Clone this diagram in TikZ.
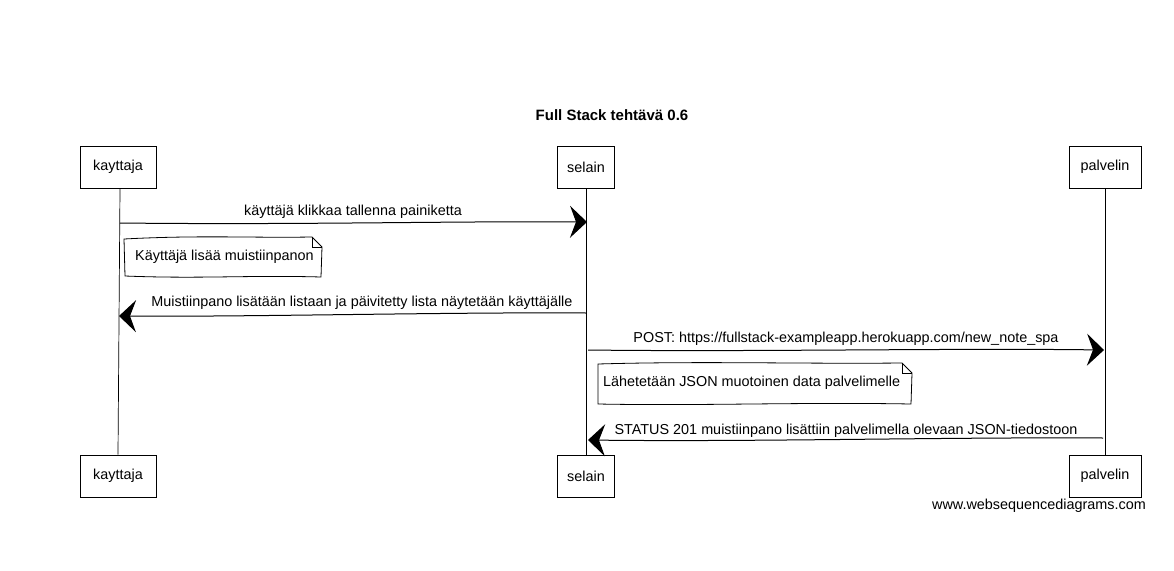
\documentclass[tikz,border=0pt]{standalone}
\usepackage{fontspec}
\setmainfont{Liberation Sans}
\usetikzlibrary{arrows.meta,calc}
\tikzset{
  txt/.style={font=\fontsize{14.4}{17}\selectfont},
  part/.style={txt, draw, line width=0.9pt, minimum height=42pt, inner sep=0pt},
  life/.style={line width=0.7pt},
  msg/.style={line width=1pt, -{Stealth[length=17pt,width=32pt,inset=6pt]}},
  lbl/.style={txt, inner sep=0pt},
  notetext/.style={txt, inner sep=0pt, anchor=west},
  noteline/.style={line width=0.8pt},
}
\begin{document}
\begin{tikzpicture}[x=1pt,y=-1pt]
\useasboundingbox (0,0) rectangle (1174,570);
% title
\node[font=\bfseries\fontsize{15}{18}\selectfont] (title) at (612,115) {Full Stack tehtävä 0.6};
% participants
\node[part, minimum width=76pt] (k) at (118,167) {kayttaja};
\node[part, minimum width=57pt] (s) at (586,167) {selain};
\node[part, minimum width=72pt] (p) at (1105,167) {palvelin};
\node[part, minimum width=76pt] (kb) at (118,476) {kayttaja};
\node[part, minimum width=57pt] (sb) at (586,476) {selain};
\node[part, minimum width=72pt] (pb) at (1105,476) {palvelin};
% lifelines
\draw[life] ([xshift=2pt]k.south) -- (kb.north);
\draw[life] (s.south) -- (sb.north);
\draw[life] (p.south) -- (pb.north);
% message points
\coordinate (k1) at (120,223);
\coordinate (s1) at (587,222);
\coordinate (s2) at (586,313);
\coordinate (k2) at (119,316);
\coordinate (s3) at (588,350);
\coordinate (p3) at (1104,350);
\coordinate (p4) at (1103,438);
\coordinate (s4) at (588,440);
% message 1
\draw[msg] (k1) .. controls (300,225) and (450,221) .. (s1);
\node[lbl] (l1) at (353,212) {käyttäjä klikkaa tallenna painiketta};
% note 1
\node[notetext] (n1t) at (135,257) {Käyttäjä lisää muistiinpanon};
\draw[noteline] (124,239) .. controls (200,235) and (250,238) .. (312,237) -- (322,247) -- (321,277) .. controls (250,275) and (200,279) .. (125,276) -- cycle;
\draw[noteline] (312,237) -- (312,247) -- (322,247);
% message 2
\draw[msg] (s2) .. controls (450,312) and (250,317) .. (k2);
\node[lbl] (l2) at (362,303) {Muistiinpano lisätään listaan ja päivitetty lista näytetään käyttäjälle};
% message 3
\draw[msg] (s3) .. controls (750,352) and (950,348) .. (p3);
\node[lbl] (l3) at (846,339) {POST: https://fullstack-exampleapp.herokuapp.com/new\_note\_spa};
% note 2
\node[notetext] (n2t) at (603,383) {Lähetetään JSON muotoinen data palvelimelle};
\draw[noteline] (598,364) .. controls (700,361) and (800,364) .. (902,363) -- (912,373) -- (911,404) .. controls (800,402) and (700,406) .. (598,404) -- cycle;
\draw[noteline] (902,363) -- (902,373) -- (912,373);
% message 4
\draw[msg] (p4) .. controls (950,437) and (750,442) .. (s4);
\node[lbl] (l4) at (846,431) {STATUS 201 muistiinpano lisättiin palvelimella olevaan JSON-tiedostoon};
% watermark
\node[lbl, anchor=east] (wm) at (1146,506) {www.websequencediagrams.com};
\end{tikzpicture}
\end{document}
